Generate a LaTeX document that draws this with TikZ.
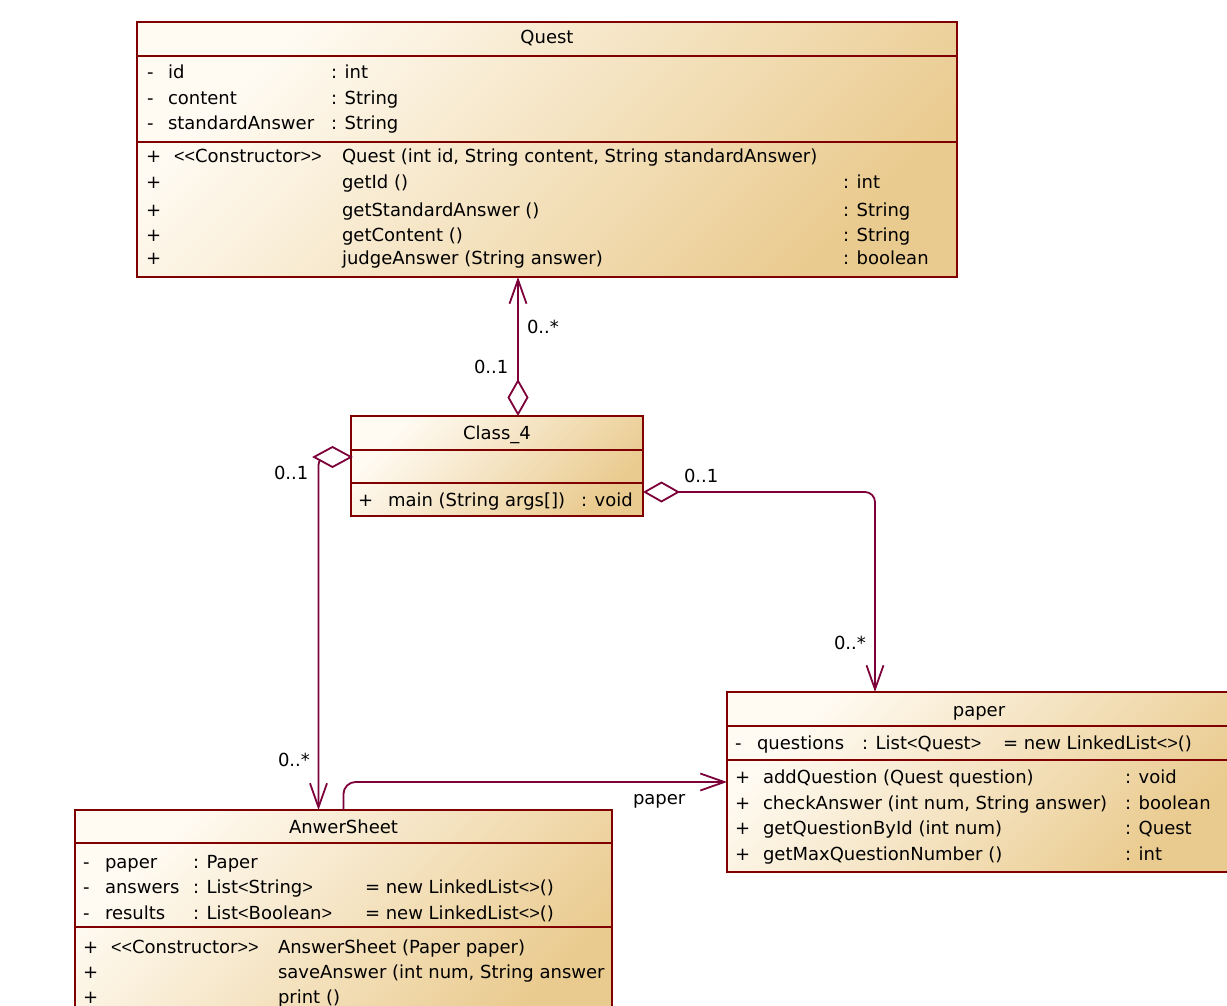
\documentclass[tikz,border=0pt]{standalone}
\usepackage{fontspec}
\setmainfont{DejaVu Sans}
\newfontfamily\narrowfont{Liberation Sans}
\usetikzlibrary{arrows.meta}
\definecolor{boxred}{RGB}{128,0,0}
\definecolor{connc}{RGB}{125,0,58}
\definecolor{gtop}{RGB}{255,251,243}
\definecolor{gbot}{RGB}{234,203,143}
\newcommand{\umlfs}{\fontsize{18pt}{21pt}\selectfont}
\newcommand{\lsym}{{\narrowfont<}}
\newcommand{\gsym}{{\narrowfont>}}
\tikzset{
  umlbox/.style={draw=boxred, line width=2pt, inner sep=0pt, outer sep=0pt,
    top color=gtop, bottom color=gbot, shading angle=45, anchor=north west},
  sepline/.style={draw=boxred, line width=2pt},
  txt/.style={anchor=base west, inner sep=0pt, outer sep=0pt, font=\umlfs, text=black},
  ctxt/.style={anchor=base, inner sep=0pt, outer sep=0pt, font=\umlfs, text=black},
  conn/.style={draw=connc, line width=1.8pt},
  barb/.style={-{Straight Barb[length=24pt,width=17pt]}},
  dia/.style={{Diamond[open,length=37pt,width=21pt]}-{Straight Barb[length=24pt,width=17pt]}}
}
\begin{document}
\begin{tikzpicture}[x=1pt,y=-1pt]
\useasboundingbox (0,0) rectangle (1227,1006);
\fill[white] (0,0) rectangle (1227,1006);
\clip (0,0) rectangle (1227,1006);

% ---------------- Quest ----------------
\node[umlbox, minimum width=820pt, minimum height=255pt] (quest) at (137,22) {};
\draw[sepline] (137,56) -- (957,56);
\draw[sepline] (137,142) -- (957,142);
\node[ctxt] (qT) at (547,44) {Quest};
\node[txt] (qa1a) at (147,79) {-};
\node[txt] (qa1b) at (168,79) {id};
\node[txt] (qa1c) at (331,79) {: int};
\node[txt] (qa2a) at (147,105) {-};
\node[txt] (qa2b) at (168,105) {content};
\node[txt] (qa2c) at (331,105) {: String};
\node[txt] (qa3a) at (147,130) {-};
\node[txt] (qa3b) at (168,130) {standardAnswer};
\node[txt] (qa3c) at (331,130) {: String};
\node[txt] (qm1a) at (146,163) {+};
\node[txt] (qm1b) at (174,163) {\lsym\lsym Constructor\gsym\gsym};
\node[txt] (qm1c) at (342,163) {Quest (int id, String content, String standardAnswer)};
\node[txt] (qm2a) at (146,189) {+};
\node[txt] (qm2c) at (342,189) {getId ()};
\node[txt] (qm2d) at (843,189) {: int};
\node[txt] (qm3a) at (146,216) {+};
\node[txt] (qm3c) at (342,216) {getStandardAnswer ()};
\node[txt] (qm3d) at (843,216) {: String};
\node[txt] (qm4a) at (146,241) {+};
\node[txt] (qm4c) at (342,241) {getContent ()};
\node[txt] (qm4d) at (843,241) {: String};
\node[txt] (qm5a) at (146,264) {+};
\node[txt] (qm5c) at (342,264) {judgeAnswer (String answer)};
\node[txt] (qm5d) at (843,264) {: boolean};

% ---------------- Class_4 ----------------
\node[umlbox, minimum width=292pt, minimum height=100pt] (c4) at (351,416) {};
\draw[sepline] (351,450) -- (643,450);
\draw[sepline] (351,483) -- (643,483);
\node[ctxt] (cT) at (497,439) {Class\_4};
\node[txt] (cm1a) at (358,506) {+};
\node[txt] (cm1b) at (388,506) {main (String args[])};
\node[txt] (cm1c) at (581,506) {: void};

% ---------------- paper ----------------
\node[umlbox, minimum width=504pt, minimum height=180pt] (paper) at (727,692) {};
\draw[sepline] (727,726) -- (1231,726);
\draw[sepline] (727,760) -- (1231,760);
\node[ctxt] (pT) at (979,716) {paper};
\node[txt] (pa1a) at (735,749) {-};
\node[txt] (pa1b) at (757,749) {questions};
\node[txt] (pa1c) at (862,749) {: List\lsym Quest\gsym};
\node[txt] (pa1d) at (1003,749) {= new LinkedList\lsym\gsym()};
\node[txt] (pm1a) at (735,783) {+};
\node[txt] (pm1b) at (763,783) {addQuestion (Quest question)};
\node[txt] (pm1c) at (1125,783) {: void};
\node[txt] (pm2a) at (735,809) {+};
\node[txt] (pm2b) at (763,809) {checkAnswer (int num, String answer)};
\node[txt] (pm2c) at (1125,809) {: boolean};
\node[txt] (pm3a) at (735,834) {+};
\node[txt] (pm3b) at (763,834) {getQuestionById (int num)};
\node[txt] (pm3c) at (1125,834) {: Quest};
\node[txt] (pm4a) at (735,860) {+};
\node[txt] (pm4b) at (763,860) {getMaxQuestionNumber ()};
\node[txt] (pm4c) at (1125,860) {: int};

% ---------------- AnwerSheet ----------------
\node[umlbox, minimum width=537pt, minimum height=220pt] (sheet) at (75,810) {};
\draw[sepline] (75,843) -- (612,843);
\draw[sepline] (75,927) -- (612,927);
\node[ctxt] (sT) at (343.5,833) {AnwerSheet};
\node[txt] (sa1a) at (83,868) {-};
\node[txt] (sa1b) at (105,868) {paper};
\node[txt] (sa1c) at (193,868) {: Paper};
\node[txt] (sa2a) at (83,893) {-};
\node[txt] (sa2b) at (105,893) {answers};
\node[txt] (sa2c) at (193,893) {: List\lsym String\gsym};
\node[txt] (sa2d) at (365,893) {= new LinkedList\lsym\gsym()};
\node[txt] (sa3a) at (83,919) {-};
\node[txt] (sa3b) at (105,919) {results};
\node[txt] (sa3c) at (193,919) {: List\lsym Boolean\gsym};
\node[txt] (sa3d) at (365,919) {= new LinkedList\lsym\gsym()};
\node[txt] (sm1a) at (83,953) {+};
\node[txt] (sm1b) at (111,953) {\lsym\lsym Constructor\gsym\gsym};
\node[txt] (sm1c) at (278,953) {AnswerSheet (Paper paper)};
\node[txt] (sm2a) at (83,978) {+};
\begin{scope}
  \clip (76,930) rectangle (610,1006);
  \node[txt] (sm2c) at (278,978) {saveAnswer (int num, String answer};
\end{scope}
\node[txt] (sm3a) at (83,1003) {+};
\node[txt] (sm3c) at (278,1003) {print ()};

% ---------------- connectors ----------------
\draw[conn, dia] ([xshift=21pt]c4.north) -- ([xshift=-29pt]quest.south);
\draw[conn, dia, rounded corners=10pt] ([yshift=-26pt]c4.east) -| ([xshift=-104pt]paper.north);
\draw[conn, barb, rounded corners=8pt] ([yshift=9pt]c4.west) -| ([xshift=-25pt]sheet.north);
\draw[conn, fill=white] ([yshift=9pt]c4.west) -- ++(-18.5,-10) -- ++(-18.5,10) -- ++(18.5,10) -- cycle;
\draw[conn, barb, rounded corners=12pt] (sheet.north) |- (paper.west);

% ---------------- labels ----------------
\node[txt] (l1) at (527,333) {0..*};
\node[txt] (l2) at (474,373) {0..1};
\node[txt] (l3) at (274,479) {0..1};
\node[txt] (l4) at (684,482) {0..1};
\node[txt] (l5) at (834,649) {0..*};
\node[txt] (l6) at (278,766) {0..*};
\node[txt] (l7) at (633,804) {paper};
\end{tikzpicture}
\end{document}
